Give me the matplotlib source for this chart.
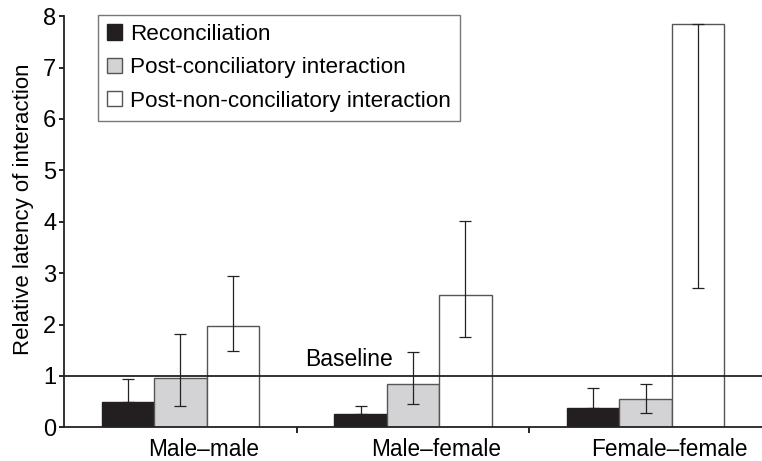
import matplotlib.pyplot as plt
import numpy as np

plt.rcParams['font.family'] = ['Liberation Sans', 'DejaVu Sans']

groups = ['Male\u2013male', 'Male\u2013female', 'Female\u2013female']
series = ['Reconciliation', 'Post-conciliatory interaction', 'Post-non-conciliatory interaction']
values = [
    [0.50, 0.26, 0.37],
    [0.96, 0.85, 0.55],
    [1.97, 2.58, 7.85],
]
err_low = [
    [0.50, 0.26, 0.37],
    [0.41, 0.45, 0.27],
    [1.48, 1.75, 2.72],
]
err_high = [
    [0.94, 0.41, 0.76],
    [1.81, 1.47, 0.84],
    [2.95, 4.02, 7.85],
]
colors = ['#231f20', '#d3d3d5', '#ffffff']
edges = ['#231f20', '#555555', '#555555']

fig = plt.figure(figsize=(7.62, 4.61), dpi=100)
ax = fig.add_axes([0.084, 0.073, 0.916, 0.892])

x = np.arange(len(groups))
w = 0.225
for i in range(3):
    pos = x + (i - 1) * w
    v = np.array(values[i])
    lo = v - np.array(err_low[i])
    hi = np.array(err_high[i]) - v
    ax.bar(pos, v, width=w, color=colors[i], edgecolor=edges[i], linewidth=1.0,
           label=series[i], zorder=2)
    ax.errorbar(pos, v, yerr=[lo, hi], fmt='none', ecolor='#222222',
                elinewidth=0.9, capsize=4, capthick=0.9, zorder=3)

ax.axhline(1, color='#222222', linewidth=1.3, zorder=4)
ax.text(0.535, 1.1, 'Baseline', fontsize=16.5, ha='left', va='bottom')

ax.set_xlim(-0.5, 2.5)
ax.set_ylim(0, 8)
ax.set_yticks(range(0, 9))
ax.tick_params(axis='y', labelsize=17, length=3.5, width=1.2, direction='out', pad=2)
# category labels sit a bit right of the group centres in the original
ax.set_xticks(x + 0.1)
ax.set_xticklabels(groups, fontsize=16.3)
ax.set_xticks([0.5, 1.5], minor=True)
ax.tick_params(axis='x', which='major', length=0, pad=8)
ax.tick_params(axis='x', which='minor', length=4, width=1.2, direction='out')
ax.set_ylabel('Relative latency of interaction', fontsize=16)
ax.yaxis.set_label_coords(-0.043, 0.53)

for s in ['top', 'right']:
    ax.spines[s].set_visible(False)
for s in ['left', 'bottom']:
    ax.spines[s].set_linewidth(1.3)
    ax.spines[s].set_color('#222222')

leg = ax.legend(loc='upper left', bbox_to_anchor=(0.049, 1.003), fontsize=16.2,
                handlelength=0.65, handleheight=0.65, handletextpad=0.35,
                labelspacing=0.55, borderpad=0.4, borderaxespad=0,
                fancybox=False, framealpha=1)
leg.get_frame().set_edgecolor('#777777')
leg.get_frame().set_linewidth(1.0)

fig.savefig('out.png', dpi=100)
